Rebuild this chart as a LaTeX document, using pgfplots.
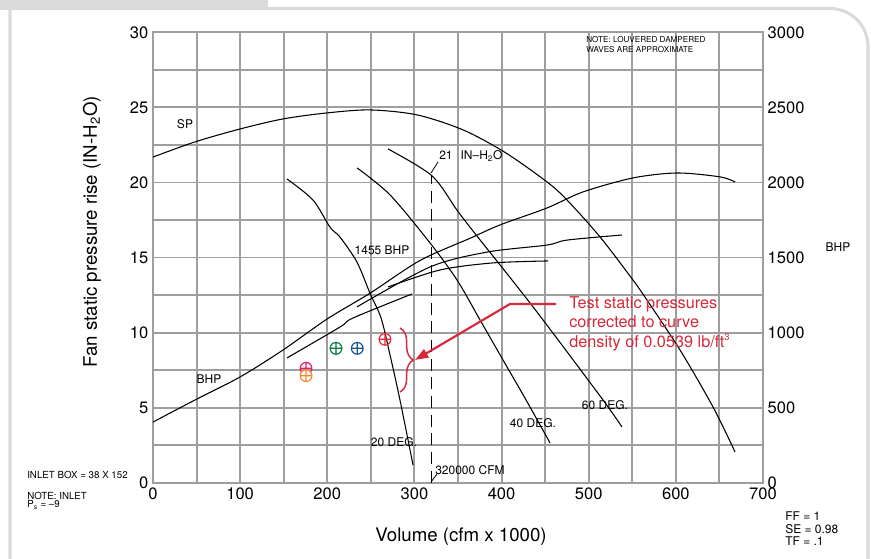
\documentclass[border=0pt]{standalone}
\usepackage{pgfplots}
\pgfplotsset{compat=1.18}
\usepackage{fontspec}
\setmainfont{TeX Gyre Heros}
\usetikzlibrary{decorations.pathreplacing,arrows.meta}
\definecolor{gridgray}{RGB}{158,158,158}
\definecolor{annred}{RGB}{214,40,57}
\definecolor{pgreen}{RGB}{0,125,65}
\definecolor{pblue}{RGB}{25,85,140}
\definecolor{pmag}{RGB}{230,30,110}
\definecolor{porange}{RGB}{245,135,40}
\definecolor{pred}{RGB}{235,40,50}
\definecolor{framegray}{RGB}{218,218,218}
\begin{document}
\begin{tikzpicture}
\path[use as bounding box] (0,0) rectangle (653.25pt,418.5pt);
\begin{scope}[shift={(0pt,418.5pt)},x=0.75pt,y=-0.75pt]
 \fill[framegray] (0,0) rectangle (268,10);
 \draw[framegray,line width=2.3pt] (10,600) -- (10,8.5) -- (830,8.5) arc[start angle=-90,end angle=0,radius=38] -- (868,600);
\end{scope}
\begin{axis}[
 at={(114.75pt,56.475pt)}, anchor=south west,
 scale only axis, width=457.5pt, height=337.8pt,
 xmin=0,xmax=700,ymin=0,ymax=30,
 xtick={0,100,200,300,400,500,600,700},
 minor xtick={50,150,250,350,450,550,650},
 ytick={0,5,10,15,20,25,30},
 minor ytick={2.5,7.5,12.5,17.5,22.5,27.5},
 grid=both,
 major grid style={draw=gridgray,line width=1.4pt},
 minor grid style={draw=gridgray,line width=1.4pt},
 axis line style={draw=gridgray,line width=1.4pt},
 tick style={draw=none},
 ytick pos=left, xtick pos=bottom,
 tick label style={font=\fontsize{12.4}{14}\selectfont},
 /pgf/number format/assume math mode=true,
 /pgf/number format/1000 sep={},
 xlabel={Volume (cfm x 1000)},
 ylabel={Fan static pressure rise (IN-H\textsubscript{2}O)},
 label style={font=\fontsize{14}{16}\selectfont},
 xlabel style={at={(axis description cs:0.505,-0.1206)},anchor=center},
 ylabel style={at={(axis description cs:-0.1,0.557)},anchor=center},
]
% SP curve
\addplot[black,line width=0.8pt,smooth] coordinates {
(0,21.69) (48.2,22.70) (99.8,23.56) (149.2,24.23) (199.7,24.63) (249,24.83) (302.9,24.5) (355.8,23.5) (404,22.0) (452.2,20.03) (475.1,18.83) (513,16.37) (550.8,13.5) (566.9,12.16) (604.8,8.84) (642.7,5.04) (667.9,2.05)};
% 20 DEG
\addplot[black,line width=0.8pt,smooth] coordinates {
(153.8,20.23) (183.6,18.83) (203.1,17.02) (214.6,16.36) (234.1,14.69) (249,12.62) (261.7,10.97) (272,8.51) (283.4,5.51) (298.4,1.18)};
% 40 DEG
\addplot[black,line width=0.8pt,smooth] coordinates {
(234.1,20.97) (272,19.17) (317.9,15.97) (348.9,13.5) (375.3,10.84) (401.7,8.17) (428.1,5.51) (455.6,2.65)};
% 60 DEG
\addplot[black,line width=0.8pt,smooth] coordinates {
(269.7,22.23) (320,20.45) (348.9,18.15) (371.5,16.45) (412,13.5) (447.6,10.84) (516.4,5.51) (538.2,3.71)};
% 320000 CFM line
\addplot[black,line width=0.9pt,dash pattern=on 9pt off 5pt] coordinates {(320,0) (320,20.4)};
% test points
\addplot[only marks,mark=oplus,mark size=4.4pt,line width=0.9pt,pmag] coordinates {(175.6,7.62)};
\addplot[only marks,mark=oplus*,mark size=4.4pt,line width=0.9pt,mark options={draw=porange,fill=white}] coordinates {(175.6,7.13)};
\addplot[only marks,mark=oplus,mark size=4.4pt,line width=0.9pt,pgreen] coordinates {(210,8.95)};
\addplot[only marks,mark=oplus,mark size=4.4pt,line width=0.9pt,pblue] coordinates {(234.4,8.95)};
\addplot[only marks,mark=oplus,mark size=4.4pt,line width=0.9pt,pred] coordinates {(266.2,9.55)};
\end{axis}
\begin{axis}[
 at={(114.75pt,56.475pt)}, anchor=south west,
 scale only axis, width=457.5pt, height=337.8pt,
 xmin=0,xmax=700,ymin=0,ymax=3000,
 hide x axis, axis y line*=right,
 ytick={0,500,1000,1500,2000,2500,3000},
 tick style={draw=none},
 axis line style={draw=none},
 tick label style={font=\fontsize{12.4}{14}\selectfont},
 /pgf/number format/assume math mode=true,
 /pgf/number format/1000 sep={},
]
% BHP curves
\addplot[black,line width=0.8pt,smooth] coordinates {
(0,404) (48.2,551) (99.8,704) (149.2,884) (199.7,1090) (249,1262) (306.4,1480) (363.8,1628) (398.2,1717) (452.2,1830) (493.5,1937) (550.8,2030) (601.3,2063) (650.7,2037) (667.9,2003)};
\addplot[black,line width=0.8pt,smooth] coordinates {
(153.8,831) (214.6,1037) (229.5,1097) (297.2,1257)};
\addplot[black,line width=0.8pt,smooth] coordinates {
(234.1,1171) (317.9,1437) (383.3,1536) (452.2,1583) (475.1,1616) (538.2,1650)};
\addplot[black,line width=0.8pt,smooth] coordinates {
(269.7,1304) (329.4,1417) (390.2,1464) (453.3,1477)};
\end{axis}
\begin{scope}[shift={(0pt,418.5pt)},x=0.75pt,y=-0.75pt]
 \tikzset{lbl/.style={inner sep=0pt,font=\fontsize{9}{10}\selectfont}}
 \node[lbl] at (185,124) {SP};
 \node[lbl] at (209,379) {BHP};
 \node[lbl] at (382,250.5) {1455 BHP};
 \node[lbl,anchor=west] at (439,156) {21\hspace{6pt}IN–H\textsubscript{2}O};
 \draw[black,line width=0.6pt] (431,173) -- (438,162);
 \node[lbl,anchor=west] at (435,470) {320000 CFM};
 \draw[black,line width=0.6pt] (431,482) -- (437,474);
 \node[lbl] at (394,442) {20 DEG.};
 \node[lbl] at (533,423) {40 DEG.};
 \node[lbl] at (605,405) {60 DEG.};
 \node[lbl] at (838,247) {BHP};
 \node[inner sep=0pt,anchor=north west,align=left,font=\fontsize{6.1}{7.5}\selectfont] at (586,36.5) {NOTE: LOUVERED DAMPERED\\WAVES ARE APPROXIMATE};
 \node[inner sep=0pt,anchor=west,font=\fontsize{7.3}{8}\selectfont] at (27,474.5) {INLET BOX = 38 X 152};
 \node[inner sep=0pt,anchor=west,font=\fontsize{7.3}{8}\selectfont] at (27,495.5) {NOTE: INLET};
 \node[inner sep=0pt,anchor=west,font=\fontsize{7.3}{8}\selectfont] at (27,505) {P\textsubscript{s} = –9};
 \node[inner sep=0pt,anchor=west,font=\fontsize{9}{10}\selectfont] at (785,516) {FF = 1};
 \node[inner sep=0pt,anchor=west,font=\fontsize{9}{10}\selectfont] at (785,529) {SE = 0.98};
 \node[inner sep=0pt,anchor=west,font=\fontsize{9}{10}\selectfont] at (785,541) {TF = .1};
 % annotation
 \node[annred,inner sep=0pt,anchor=north west,align=left,font=\fontsize{12.2}{14.6}\selectfont] at (569,296) {Test static pressures\\corrected to curve\\density of 0.0539 lb/ft\raisebox{4.6pt}{\fontsize{7}{8}\selectfont 3}};
 \draw[annred,line width=1.6pt,-{Triangle[length=10pt,width=7pt]}] (556,304) -- (510,304) -- (415,360);
 \draw[annred,line width=1.1pt,decorate,decoration={brace,amplitude=10pt}] (400,328) -- (400,392);
\end{scope}
\end{tikzpicture}
\end{document}
